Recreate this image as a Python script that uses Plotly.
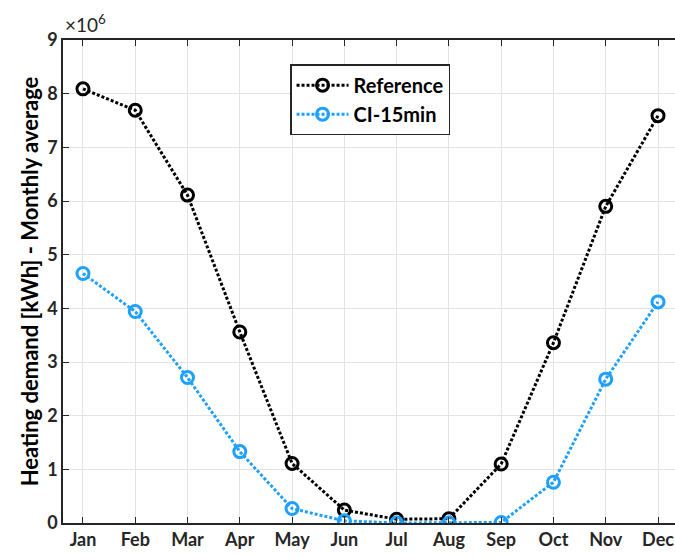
import plotly.graph_objects as go

months = ["Jan", "Feb", "Mar", "Apr", "May", "Jun", "Jul", "Aug", "Sep", "Oct", "Nov", "Dec"]
reference = [8.09, 7.69, 6.11, 3.56, 1.11, 0.24, 0.07, 0.08, 1.10, 3.36, 5.90, 7.59]
ci_15min = [4.65, 3.94, 2.71, 1.33, 0.27, 0.04, 0.0, 0.0, 0.01, 0.76, 2.68, 4.12]
y_ticks = [0, 1, 2, 3, 4, 5, 6, 7, 8, 9]

x = list(range(1, 13))
FONT = "Lato"
BLUE = "#1EA0FF"

fig = go.Figure()
fig.add_trace(go.Scatter(
    x=x, y=reference, name="Reference", mode="lines+markers",
    line=dict(color="black", width=3, dash="3px,2px"),
    marker=dict(symbol="circle-open", size=12, color="black", line=dict(width=3, color="black")),
))
fig.add_trace(go.Scatter(
    x=x, y=ci_15min, name="CI-15min", mode="lines+markers",
    line=dict(color=BLUE, width=3, dash="3px,2px"),
    marker=dict(symbol="circle-open", size=12, color=BLUE, line=dict(width=3, color=BLUE)),
))

fig.update_layout(
    width=675, height=558,
    margin=dict(l=63, r=0, t=40, b=35),
    paper_bgcolor="white", plot_bgcolor="white",
    font=dict(family=FONT, color="#262626"),
    showlegend=True,
    legend=dict(
        x=0.371, y=0.95, xanchor="left", yanchor="top",
        bgcolor="white", bordercolor="#262626", borderwidth=1.5,
        font=dict(family=FONT, size=20, color="black", weight="bold"),
        itemwidth=52, tracegroupgap=0,
    ),
    xaxis=dict(
        range=[0.618, 12.325], tickmode="array", tickvals=x, ticktext=months,
        showgrid=True, gridcolor="#E3E3E3", gridwidth=1,
        showline=True, linecolor="#262626", linewidth=1.5, mirror="ticks",
        ticks="inside", ticklen=6, tickcolor="#262626",
        tickfont=dict(family=FONT, size=18, color="#262626", weight="bold"),
        zeroline=False,
    ),
    yaxis=dict(
        range=[0, 9], tickmode="array", tickvals=y_ticks,
        ticktext=[str(v) for v in y_ticks],
        showgrid=True, gridcolor="#E3E3E3", gridwidth=1,
        showline=True, linecolor="#262626", linewidth=1.5,
        ticks="inside", ticklen=6, tickcolor="#262626",
        tickfont=dict(family=FONT, size=18, color="#262626", weight="bold"),
        zeroline=False,
        title=dict(text="Heating demand [kWh] - Monthly average",
                   font=dict(family=FONT, size=22, color="black", weight="bold"), standoff=2),
    ),
)

fig.add_annotation(
    xref="paper", yref="paper", x=0.0, y=1.0, xanchor="left", yanchor="bottom",
    text="×10<sup>6</sup>", showarrow=False, yshift=2,
    font=dict(family=FONT, size=19, color="#262626"),
)

fig.write_html(
    "out.html",
    config={"displayModeBar": False},
    post_script="document.body.style.margin='0';document.body.style.overflow='hidden';",
)
